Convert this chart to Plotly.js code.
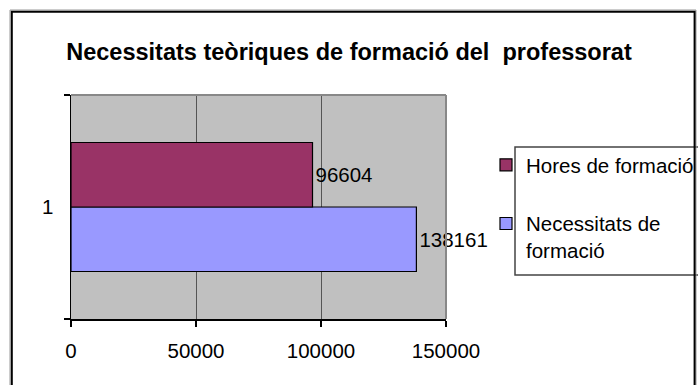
<!DOCTYPE html>
<html>
<head>
<meta charset="utf-8">
<script src="https://cdn.plot.ly/plotly-3.0.1.min.js"></script>
<style>
  html, body { margin: 0; padding: 0; background: #fff; }
  #chart { width: 698px; height: 385px; }
</style>
</head>
<body>
<div id="chart"></div>
<script>
// Category and series values
const categories = ['1'];
const horesName = 'Hores de formació';
const necessitatsName = 'Necessitats de<br>formació';
const horesValues = [96604];
const necessitatsValues = [138161];
const xTickValues = [0, 50000, 100000, 150000];

const FONT = 'Liberation Sans, Arial, sans-serif';
const W = 698, H = 385;
const M = { l: 71, r: 252, t: 95, b: 66 };
const plotW = W - M.l - M.r, plotH = H - M.t - M.b;

// pixel -> paper helpers for the decorative frame shapes
const px = x => (x - M.l) / plotW;
const py = y => (H - M.b - y) / plotH;

const barLine = { color: '#000', width: 1.2 };
const labelFont = { family: FONT, size: 20.5, color: '#000' };

const traces = [
  {
    type: 'bar', orientation: 'h',
    name: necessitatsName, legendgroup: 'b', legendrank: 2,
    y: categories, x: necessitatsValues,
    text: necessitatsValues.map(String),
    textposition: 'outside', constraintext: 'none', cliponaxis: false,
    textfont: labelFont,
    marker: { color: '#9999FF', line: barLine },
    hoverinfo: 'x'
  },
  {
    type: 'bar', orientation: 'h',
    name: horesName, legendgroup: 'a', legendrank: 1,
    y: categories, x: horesValues,
    text: horesValues.map(String),
    textposition: 'outside', constraintext: 'none', cliponaxis: false,
    textfont: labelFont,
    marker: { color: '#993366', line: barLine },
    hoverinfo: 'x'
  }
];

const layout = {
  width: W, height: H,
  margin: M,
  paper_bgcolor: '#fff',
  plot_bgcolor: '#C0C0C0',
  font: { family: FONT, size: 20.5, color: '#000' },
  title: {
    text: 'Necessitats teòriques de formació del\u00a0 professorat',
    font: { family: FONT, size: 23.5, weight: 'bold', color: '#000' },
    x: 349 / W, xref: 'container', xanchor: 'center',
    y: 1 - 52 / H, yref: 'container', yanchor: 'middle'
  },
  barmode: 'group',
  bargap: 0.424,
  bargroupgap: 0,
  xaxis: {
    range: [0, 150000],
    tickvals: xTickValues,
    tickformat: 'd',
    showline: true, linecolor: '#000', linewidth: 1.5,
    ticks: 'outside', ticklen: 6, tickwidth: 1.5, tickcolor: '#000',
    ticklabelstandoff: 7,
    showgrid: true, gridcolor: '#555', gridwidth: 1,
    zeroline: false,
    tickfont: { family: FONT, size: 20.5, color: '#000' },
    fixedrange: true
  },
  yaxis: {
    type: 'category',
    range: [-0.5, 0.5],
    showline: true, linecolor: '#000', linewidth: 1.5,
    ticks: 'outside', tickson: 'boundaries', ticklen: 6, tickwidth: 1.5, tickcolor: '#000',
    ticklabelstandoff: 12,
    showgrid: false, zeroline: false,
    tickfont: { family: FONT, size: 20.5, color: '#000' },
    fixedrange: true
  },
  showlegend: true,
  legend: {
    xref: 'container', yref: 'container',
    x: 486 / W, xanchor: 'left',
    y: 1 - 145 / H, yanchor: 'top',
    bgcolor: 'rgba(0,0,0,0)', borderwidth: 0,
    traceorder: 'grouped', tracegroupgap: 29,
    valign: 'top',
    font: { family: FONT, size: 20.5, color: '#000' }
  },
  shapes: [
    // plot area top and right edges
    { type: 'line', xref: 'paper', yref: 'paper', x0: 0, x1: 1, y0: 1, y1: 1,
      line: { color: '#888', width: 2 }, layer: 'above' },
    { type: 'line', xref: 'paper', yref: 'paper', x0: 1, x1: 1, y0: 0, y1: 1,
      line: { color: '#888', width: 2 }, layer: 'above' },
    // legend frame
    { type: 'rect', xref: 'paper', yref: 'paper',
      x0: px(515), x1: px(740), y0: py(275), y1: py(147),
      line: { color: '#444', width: 1.5 }, fillcolor: 'rgba(0,0,0,0)', layer: 'above' },
    // chart frame
    { type: 'rect', xref: 'paper', yref: 'paper',
      x0: px(10), x1: px(696), y0: py(420), y1: py(10),
      line: { color: '#999', width: 1 }, fillcolor: 'rgba(0,0,0,0)', layer: 'above' },
    { type: 'rect', xref: 'paper', yref: 'paper',
      x0: px(11.8), x1: px(694.6), y0: py(420), y1: py(11.8),
      line: { color: '#000', width: 2 }, fillcolor: 'rgba(0,0,0,0)', layer: 'above' }
  ]
};

Plotly.newPlot('chart', traces, layout, { displayModeBar: false, staticPlot: true });
</script>
</body>
</html>
